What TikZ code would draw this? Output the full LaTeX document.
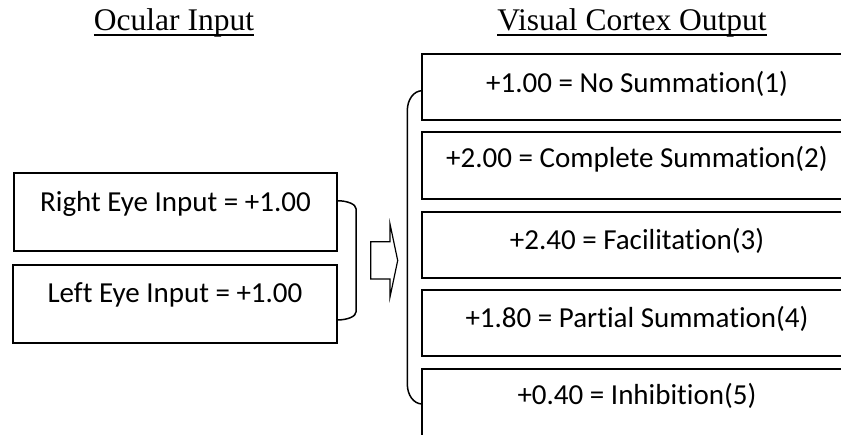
\documentclass[tikz,border=0pt]{standalone}
\usepackage{fontspec}
\setmainfont{Liberation Serif}
\newfontfamily\calib[Ligatures=NoCommon]{Carlito}
\begin{document}
\begin{tikzpicture}[x=1bp,y=-1bp,
  box/.style={draw=black, line width=1.5bp, inner sep=0pt, anchor=center,
    font=\calib\fontsize{29bp}{34bp}\selectfont},
  otext/.style={inner sep=0pt, anchor=center, minimum width=430bp, minimum height=66bp,
    font=\calib\fontsize{29bp}{34bp}\selectfont},
  oline/.style={draw=black, line width=1.5bp},
  titlestyle/.style={inner sep=0pt, anchor=base, font=\fontsize{31.5bp}{36bp}\selectfont},
  brk/.style={draw=black, line width=1.5bp},
  uline/.style={line width=1.3bp}]
\useasboundingbox (0,0) rectangle (841,435);
\clip (0,0) rectangle (841,435);

% titles
\node[titlestyle] (t1) at (174,30.7) {Ocular Input};
\draw[uline] ([yshift=-4.3bp]t1.base west) -- ([yshift=-4.3bp]t1.base east);
\node[titlestyle] (t2) at (632,30.7) {Visual Cortex Output};
\draw[uline] ([yshift=-4.3bp]t2.base west) -- ([yshift=-4.3bp]t2.base east);

% input boxes
\node[box, minimum width=323bp, minimum height=78bp, text height=11bp, text depth=11bp] (re) at (175.5,212) {Right Eye Input = +1.00};
\node[box, minimum width=324bp, minimum height=78bp, text height=10bp, text depth=12bp] (le) at (175,304) {Left Eye Input = +1.00};

% output boxes (their right sides run off the picture)
\node[otext, text height=22bp, text depth=10bp] (o1) at (637,87) {+1.00 = No Summation(1)};
\node[otext, minimum height=67bp, text height=15bp, text depth=10bp] (o2) at (637,165.5) {+2.00 = Complete Summation(2)};
\node[otext, text height=20bp, text depth=10bp] (o3) at (637,245) {+2.40 = Facilitation(3)};
\node[otext, text height=20bp, text depth=10bp] (o4) at (637,323) {+1.80 = Partial Summation(4)};
\node[otext, minimum height=80bp, text height=10bp, text depth=18bp] (o5) at (637,409) {+0.40 = Inhibition(5)};
\foreach \n in {o1,o2,o3,o4,o5}
  \draw[oline] ([xshift=30bp]\n.north east) -- (\n.north west) -- (\n.south west) -- ([xshift=30bp]\n.south east);

% small right bracket
\draw[brk] (337,200.7) .. controls (347.5,200.7) and (356,204.3) .. (356,208.7)
  -- (356,312) .. controls (356,316.4) and (347.5,320) .. (337,320);

% block arrow
\draw[line width=1.2bp] (370.7,241.7) -- (390,241.7) -- (390,224) -- (397.7,260.5)
  -- (390,297) -- (390,279) -- (370.7,279) -- cycle;

% large left bracket
\draw[brk] (422.3,90.7) .. controls (413.6,90.7) and (407.3,99.7) .. (407.3,110.7)
  -- (407.3,384) .. controls (407.3,395) and (413.6,404) .. (422.3,404);
\end{tikzpicture}
\end{document}
